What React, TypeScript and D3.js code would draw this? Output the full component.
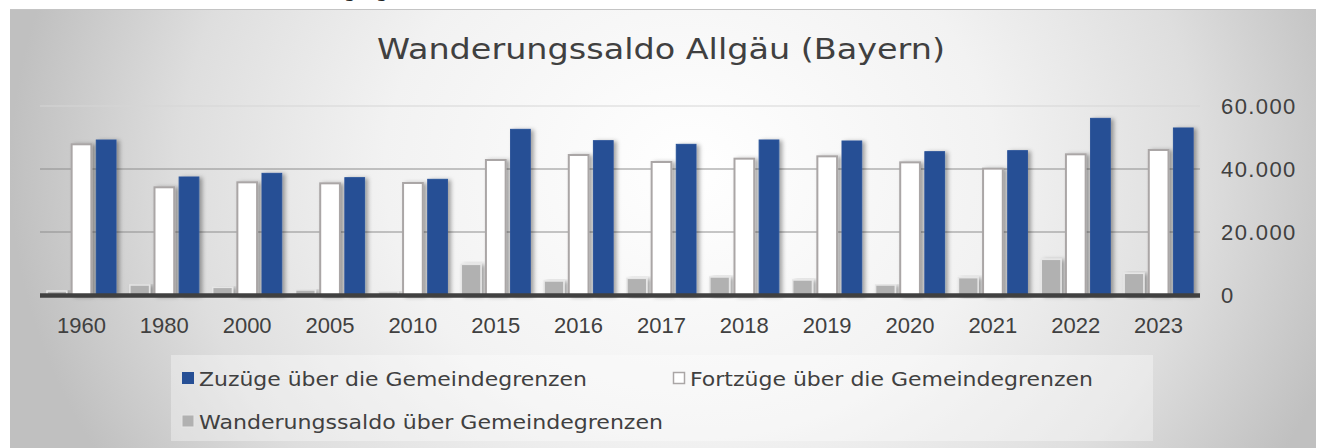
import React from 'react';
import * as d3 from 'd3';

const categories = ['1960', '1980', '2000', '2005', '2010', '2015', '2016', '2017', '2018', '2019', '2020', '2021', '2022', '2023'];
const zuzuege = [49200, 37460, 38620, 37250, 36720, 52590, 48990, 47830, 49210, 48890, 45500, 45820, 56080, 53020];
const fortzuege = [47840, 34190, 35770, 35450, 35560, 42860, 44440, 42220, 43280, 44020, 42110, 40110, 44660, 46030];
const saldo = [1270, 3170, 2430, 1590, 1000, 9730, 4440, 5290, 5710, 4760, 3170, 5500, 11330, 6880];
const yTicks = [0, 20000, 40000, 60000];
const title = 'Wanderungssaldo Allgäu (Bayern)';
const seriesNames = ['Zuzüge über die Gemeindegrenzen', 'Fortzüge über die Gemeindegrenzen', 'Wanderungssaldo über Gemeindegrenzen'];

const W = 1322;
const H = 448;
const plot = { left: 40, right: 1200, top: 106, bottom: 295 };

const de = d3.formatLocale({ decimal: ',', thousands: '.', grouping: [3], currency: ['', '€'] });
const fmt = de.format(',');

const series = [
  { key: 'saldo', values: saldo, fill: '#b1b1b1', stroke: '#e6e6e6', sw: 1.5 },
  { key: 'fort', values: fortzuege, fill: '#ffffff', stroke: '#aaa6a6', sw: 2 },
  { key: 'zu', values: zuzuege, fill: '#264f95', stroke: '#2a5399', sw: 1 },
];

export default function App() {
  const x0 = d3.scaleBand<string>().domain(categories).range([plot.left, plot.right]).paddingInner(0).paddingOuter(0);
  const x1 = d3.scaleBand<string>().domain(series.map(s => s.key)).range([7, 76]).paddingInner(0.2).paddingOuter(0);
  const y = d3.scaleLinear().domain([0, 60000]).range([plot.bottom, plot.top]);
  const font = '"DejaVu Sans", sans-serif';
  const axisFont = '"Liberation Sans", Arial, sans-serif';

  return (
    <svg width={W} height={H} style={{ position: 'absolute', left: 0, top: 0 }}>
      <defs>
        <radialGradient id="bg" gradientUnits="userSpaceOnUse" cx={690} cy={170} r={680}
          gradientTransform="translate(690,170) scale(1,0.85) translate(-690,-170)">
          <stop offset="0" stopColor="#ffffff" />
          <stop offset="0.45" stopColor="#f2f2f2" />
          <stop offset="0.75" stopColor="#dedede" />
          <stop offset="1" stopColor="#c0c0c0" />
        </radialGradient>
        <filter id="sh" x="-50%" y="-10%" width="200%" height="130%">
          <feDropShadow dx="3" dy="1" stdDeviation="2" floodColor="#000" floodOpacity="0.35" />
        </filter>
      </defs>
      <rect x={0} y={0} width={W} height={H} fill="#ffffff" />
      <text x={350} y={-3} fontFamily={font} fontSize={20} fill="#222" textAnchor="middle">g</text>
      <text x={382} y={-3} fontFamily={font} fontSize={20} fill="#222" textAnchor="middle">g</text>
      <rect x={10} y={9} width={1306} height={H} fill="url(#bg)" />
      <line x1={10} x2={1316} y1={9.5} y2={9.5} stroke="#c4c4c4" strokeWidth={1} />

      <text x={661} y={59} textAnchor="middle" fontFamily={font} fontSize={28} fill="#404040"
        textLength={568} lengthAdjust="spacingAndGlyphs">{title}</text>

      {yTicks.filter(t => t > 0).map(t => (
        <line key={t} x1={plot.left} x2={plot.right} y1={y(t)} y2={y(t)}
          stroke={t === 60000 ? '#d6d6d6' : '#8e8e8e'} strokeWidth={1.2} />
      ))}

      {categories.map((c, i) => (
        <g key={c} transform={`translate(${x0(c)},0)`}>
          {series.map(s => (
            <rect key={s.key} x={x1(s.key)} y={y(s.values[i])} width={x1.bandwidth()}
              height={y(0) - y(s.values[i])} fill={s.fill} stroke={s.stroke} strokeWidth={s.sw}
              filter="url(#sh)" />
          ))}
        </g>
      ))}

      <line x1={plot.left} x2={plot.right} y1={y(0) + 0.5} y2={y(0) + 0.5} stroke="#404040" strokeWidth={4.5} />

      {categories.map(c => (
        <text key={c} x={(x0(c) as number) + x0.bandwidth() / 2} y={333} textAnchor="middle"
          fontFamily={axisFont} fontSize={22} fill="#404040">{c}</text>
      ))}

      {yTicks.map(t => (
        <text key={t} x={1221} y={y(t)} dy="0.35em" fontFamily={axisFont} fontSize={22}
          letterSpacing={t === 0 ? 0 : 1.4} fill="#404040">{fmt(t)}</text>
      ))}

      <rect x={171} y={355} width={982} height={86} fill="#ffffff" fillOpacity={0.35} />
      <rect x={182} y={372} width={12} height={12} fill="#264f95" />
      <text x={199} y={385.5} fontFamily={font} fontSize={20} fill="#404040" textLength={388} lengthAdjust="spacingAndGlyphs">{seriesNames[0]}</text>
      <rect x={673.5} y={372.5} width={11} height={11} fill="#ffffff" stroke="#aaa6a6" strokeWidth={1.5} />
      <text x={690} y={385.5} fontFamily={font} fontSize={20} fill="#404040" textLength={403} lengthAdjust="spacingAndGlyphs">{seriesNames[1]}</text>
      <rect x={182} y={415} width={12} height={12} fill="#b1b1b1" stroke="#e6e6e6" strokeWidth={1} />
      <text x={199} y={428.5} fontFamily={font} fontSize={20} fill="#404040" textLength={464} lengthAdjust="spacingAndGlyphs">{seriesNames[2]}</text>
    </svg>
  );
}
